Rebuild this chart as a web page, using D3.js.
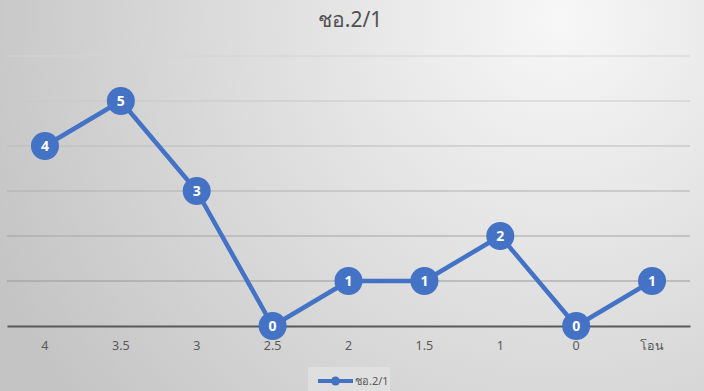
<!DOCTYPE html>
<html>
<head>
<meta charset="utf-8">
<script src="https://cdn.jsdelivr.net/npm/d3@7"></script>
<style>
  body { margin: 0; }
  svg { display: block; font-family: "Noto Sans", "DejaVu Sans", sans-serif; }
</style>
</head>
<body>
<svg id="chart"></svg>
<script>
var categories = ["4", "3.5", "3", "2.5", "2", "1.5", "1", "0", "โอน"];
var values = [4, 5, 3, 0, 1, 1, 2, 0, 1];
var seriesName = "ชอ.2/1";
var gridTicks = [0, 1, 2, 3, 4, 5, 6];

var W = 704, H = 391;
var margin = {top: 56, right: 14, bottom: 65, left: 7},
    width = W - margin.left - margin.right,
    height = H - margin.top - margin.bottom;

var svg = d3.select("#chart").attr("width", W).attr("height", H);

// background
var defs = svg.append("defs");
var bg = defs.append("radialGradient").attr("id", "bg")
    .attr("gradientUnits", "userSpaceOnUse")
    .attr("cx", 560).attr("cy", 20).attr("r", 620);
bg.append("stop").attr("offset", "0%").attr("stop-color", "#f7f7f7");
bg.append("stop").attr("offset", "100%").attr("stop-color", "#c4c4c4");
svg.append("rect").attr("width", W).attr("height", H).attr("fill", "url(#bg)");

// title
svg.append("text")
    .attr("x", W / 2 - 2).attr("y", 27)
    .attr("text-anchor", "middle")
    .attr("fill", "#505050")
    .style("font-size", "21px")
    .text(seriesName);

var g = svg.append("g")
    .attr("transform", "translate(" + margin.left + "," + margin.top + ")");

var x = d3.scaleBand().domain(categories).range([0, width]);
var y = d3.scaleLinear().domain([0, 6]).range([height, 0]);

// gridlines (lighter toward top)
var gridColor = d3.scaleLinear().domain([0, 6]).range(["#8c8c8c", "#d4d4d4"]);
g.selectAll(".grid")
    .data(gridTicks.filter(function(d) { return d > 0; }))
  .enter().append("line")
    .attr("class", "grid")
    .attr("x1", 0).attr("x2", width)
    .attr("y1", function(d) { return y(d); })
    .attr("y2", function(d) { return y(d); })
    .attr("stroke", function(d) { return gridColor(d); })
    .attr("stroke-width", 1);

// x axis
var xAxis = g.append("g")
    .attr("transform", "translate(0," + height + ")")
    .call(d3.axisBottom(x).tickSize(0).tickPadding(15));
xAxis.select(".domain").attr("stroke", "#595959").attr("stroke-width", 2);
xAxis.selectAll("text")
    .attr("fill", "#595959")
    .style("font-size", "12.5px")
    .style("font-family", "Noto Sans, DejaVu Sans, sans-serif");

var cx = function(d, i) { return x(categories[i]) + x.bandwidth() / 2; };

var line = d3.line()
    .x(function(d, i) { return cx(d, i); })
    .y(function(d) { return y(d); });

g.append("path")
    .datum(values)
    .attr("fill", "none")
    .attr("stroke", "#4472c4")
    .attr("stroke-width", 4.5)
    .attr("stroke-linejoin", "round")
    .attr("d", line);

g.selectAll(".dot")
    .data(values)
  .enter().append("circle")
    .attr("class", "dot")
    .attr("cx", cx)
    .attr("cy", function(d) { return y(d); })
    .attr("r", 14)
    .attr("fill", "#4472c4");

g.selectAll(".lbl")
    .data(values)
  .enter().append("text")
    .attr("class", "lbl")
    .attr("x", cx)
    .attr("y", function(d) { return y(d) + 5; })
    .attr("text-anchor", "middle")
    .attr("fill", "#ffffff")
    .style("font-size", "14px")
    .style("font-weight", "bold")
    .text(function(d) { return d; });

// legend
var lg = svg.append("g").attr("transform", "translate(308,367)");
lg.append("rect").attr("width", 82).attr("height", 24).attr("fill", "#e6e6e6").attr("opacity", 0.6);
lg.append("line").attr("x1", 10).attr("x2", 45).attr("y1", 14).attr("y2", 14)
    .attr("stroke", "#4472c4").attr("stroke-width", 4);
lg.append("circle").attr("cx", 27.5).attr("cy", 14).attr("r", 4.5).attr("fill", "#4472c4");
lg.append("text").attr("x", 47).attr("y", 18)
    .attr("fill", "#595959").style("font-size", "11px").text(seriesName);
</script>
</body>
</html>
